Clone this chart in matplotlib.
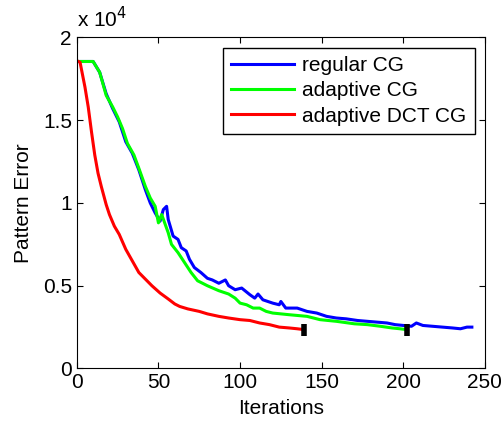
import matplotlib
matplotlib.use('Agg')
import matplotlib.pyplot as plt

plt.rcParams['font.family'] = ['Liberation Sans', 'DejaVu Sans']

# iterations / pattern error (x 10^4)
regular_it = [0, 10, 14, 18, 22, 26, 30, 34, 38, 42, 45, 48, 51, 53, 55, 56, 59, 62, 64, 67,
              69, 72, 76, 80, 83, 87, 91, 93, 97, 101, 106, 109, 111, 114, 120, 124, 125, 128,
              135, 141, 147, 153, 159, 165, 172, 178, 184, 190, 195, 200, 205, 208, 212, 218,
              224, 230, 235, 239, 242]
regular_err = [1.855, 1.855, 1.79, 1.66, 1.57, 1.49, 1.37, 1.30, 1.20, 1.08, 1.00, 0.94, 0.89,
               0.96, 0.98, 0.90, 0.80, 0.78, 0.73, 0.71, 0.66, 0.61, 0.58, 0.545, 0.535, 0.515,
               0.535, 0.50, 0.476, 0.486, 0.446, 0.425, 0.45, 0.415, 0.395, 0.385, 0.405, 0.365,
               0.365, 0.345, 0.335, 0.315, 0.305, 0.30, 0.29, 0.285, 0.28, 0.275, 0.265, 0.26,
               0.255, 0.275, 0.26, 0.255, 0.25, 0.245, 0.24, 0.25, 0.25]

adaptive_it = [0, 10, 14, 18, 22, 25, 28, 31, 35, 38, 42, 45, 48, 50, 52, 56, 58, 62, 66, 70,
               74, 80, 87, 93, 97, 100, 104, 108, 112, 116, 120, 130, 141, 149, 159, 170, 178,
               186, 193, 198, 202]
adaptive_err = [1.855, 1.855, 1.79, 1.65, 1.58, 1.52, 1.45, 1.36, 1.29, 1.21, 1.10, 1.03, 0.98,
                0.88, 0.93, 0.82, 0.75, 0.70, 0.64, 0.58, 0.53, 0.50, 0.47, 0.45, 0.425, 0.395,
                0.385, 0.365, 0.365, 0.345, 0.335, 0.325, 0.315, 0.295, 0.285, 0.27, 0.265,
                0.255, 0.245, 0.24, 0.235]

dct_it = [1, 2, 3, 5, 7, 9, 11, 13, 15, 18, 20, 23, 26, 30, 34, 38, 42, 46, 51, 56, 60, 63,
          68, 75, 80, 87, 93, 100, 106, 112, 118, 124, 130, 135, 139]
dct_err = [1.855, 1.85, 1.80, 1.70, 1.58, 1.43, 1.29, 1.18, 1.10, 0.99, 0.93, 0.86, 0.81,
           0.72, 0.65, 0.58, 0.54, 0.50, 0.456, 0.42, 0.39, 0.375, 0.36, 0.345, 0.33, 0.315,
           0.305, 0.295, 0.29, 0.275, 0.265, 0.25, 0.245, 0.24, 0.235]

fig = plt.figure(figsize=(5.02, 4.26), dpi=100)
ax = fig.add_axes([0.153, 0.135, 0.813, 0.777])

ax.plot(regular_it, regular_err, color=(0, 0, 1), lw=2.2, label='regular CG')
ax.plot(adaptive_it, adaptive_err, color=(0, 1, 0), lw=2.2, label='adaptive CG')
ax.plot(dct_it, dct_err, color=(1, 0, 0), lw=2.2, label='adaptive DCT CG')

# end markers
ax.plot([dct_it[-1], adaptive_it[-1]], [dct_err[-1], adaptive_err[-1]], ls='none',
        marker='|', color='black', markersize=9, markeredgewidth=4)

ax.set_xlim(0, 250)
ax.set_ylim(0, 2)
ax.set_xticks([0, 50, 100, 150, 200, 250])
ax.set_yticks([0, 0.5, 1, 1.5, 2])
ax.set_yticklabels(['0', '0.5', '1', '1.5', '2'])
ax.tick_params(direction='in', top=True, right=True, labelsize=15, length=4)
ax.set_xlabel('Iterations', fontsize=15, labelpad=5)
ax.set_ylabel('Pattern Error', fontsize=15, labelpad=7)
ax.text(0.0, 1.02, r'x 10$^{4}$', transform=ax.transAxes, fontsize=15,
        ha='left', va='bottom')

ax.legend(loc='upper right', fontsize=15, frameon=True, fancybox=False, edgecolor='black',
          framealpha=1, borderaxespad=0.5, handlelength=3.0, labelspacing=0.3,
          borderpad=0.4, handletextpad=0.4)

plt.savefig('out.png', dpi=100)
